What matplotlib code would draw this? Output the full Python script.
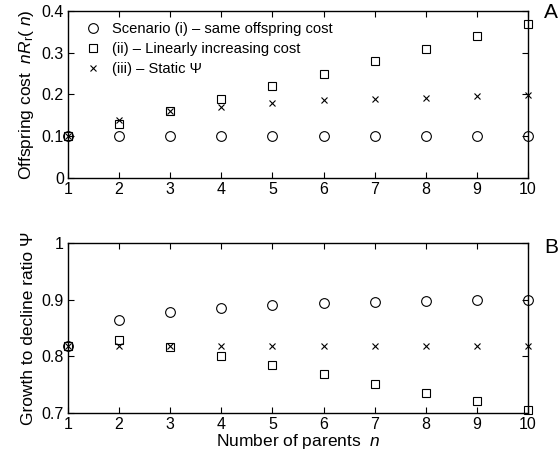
import matplotlib
matplotlib.use('Agg')
import matplotlib.pyplot as plt

plt.rcParams['font.family'] = ['Liberation Sans', 'DejaVu Sans']
plt.rcParams['mathtext.fontset'] = 'custom'
plt.rcParams['mathtext.rm'] = 'Liberation Sans'
plt.rcParams['mathtext.it'] = 'Liberation Sans:italic'
plt.rcParams['font.size'] = 11

# number of parents
n = [1, 2, 3, 4, 5, 6, 7, 8, 9, 10]

# panel A: offspring cost nR_r(n)
cost_same = [0.1, 0.1, 0.1, 0.1, 0.1, 0.1, 0.1, 0.1, 0.1, 0.1]
cost_linear = [0.1, 0.13, 0.16, 0.19, 0.22, 0.25, 0.28, 0.31, 0.34, 0.37]
cost_static = [0.1, 0.139, 0.16, 0.169, 0.179, 0.187, 0.189, 0.192, 0.196, 0.199]

# panel B: growth to decline ratio
psi_same = [0.818, 0.864, 0.878, 0.886, 0.891, 0.894, 0.896, 0.898, 0.899, 0.9]
psi_linear = [0.818, 0.829, 0.816, 0.8, 0.784, 0.768, 0.752, 0.735, 0.721, 0.705]
psi_static = [0.818, 0.818, 0.818, 0.818, 0.818, 0.818, 0.818, 0.818, 0.818, 0.818]

legend_labels = ['Scenario (i) \u2013 same offspring cost',
                 '(ii) \u2013 Linearly increasing cost',
                 '(iii) \u2013 Static \u03a8']

fig = plt.figure(figsize=(5.59, 4.55), dpi=100)
axA = fig.add_axes([68 / 559, 1 - 178 / 455, 460 / 559, 167 / 455])
axB = fig.add_axes([68 / 559, 1 - 413 / 455, 460 / 559, 170 / 455])

def draw(ax, s1, s2, s3):
    ax.plot(n, s1, 'o', ms=7, mfc='none', mec='k', mew=0.8, clip_on=False, label=legend_labels[0])
    ax.plot(n, s2, 's', ms=5.3, mfc='none', mec='k', mew=0.8, clip_on=False, label=legend_labels[1])
    ax.plot(n, s3, 'x', ms=5, mec='k', mew=0.8, clip_on=False, label=legend_labels[2])
    ax.set_xlim(1, 10)
    ax.set_xticks(n)
    ax.tick_params(direction='in', top=True, right=True, length=4, width=0.8, pad=3,
                   labelsize=11.5)
    for s in ax.spines.values():
        s.set_linewidth(1.0)

draw(axA, cost_same, cost_linear, cost_static)
axA.set_ylim(0, 0.4)
axA.set_yticks([0, 0.1, 0.2, 0.3, 0.4])
axA.set_yticklabels(['0', '0.1', '0.2', '0.3', '0.4'])
axA.set_ylabel('Offspring cost  $nR_{\\rm r}$( $n$)', fontsize=12.5, labelpad=4)
axA.legend(loc='upper left', bbox_to_anchor=(8 / 460, 1 - 3 / 167), frameon=False,
           fontsize=10.6, handlelength=1.2, handletextpad=0.7, borderaxespad=0,
           borderpad=0.55, labelspacing=0.42)

draw(axB, psi_same, psi_linear, psi_static)
axB.set_ylim(0.7, 1.0)
axB.set_yticks([0.7, 0.8, 0.9, 1.0])
axB.set_yticklabels(['0.7', '0.8', '0.9', '1'])
axB.set_ylabel('Growth to decline ratio \u03a8', fontsize=12.5, labelpad=4)
axB.set_xlabel('Number of parents  $n$', fontsize=12.5, labelpad=0)

fig.text(544 / 559, 1 - 13 / 455, 'A', fontsize=15, va='center')
fig.text(544 / 559, 1 - 248 / 455, 'B', fontsize=15, va='center')

fig.savefig('out.png', dpi=100)
